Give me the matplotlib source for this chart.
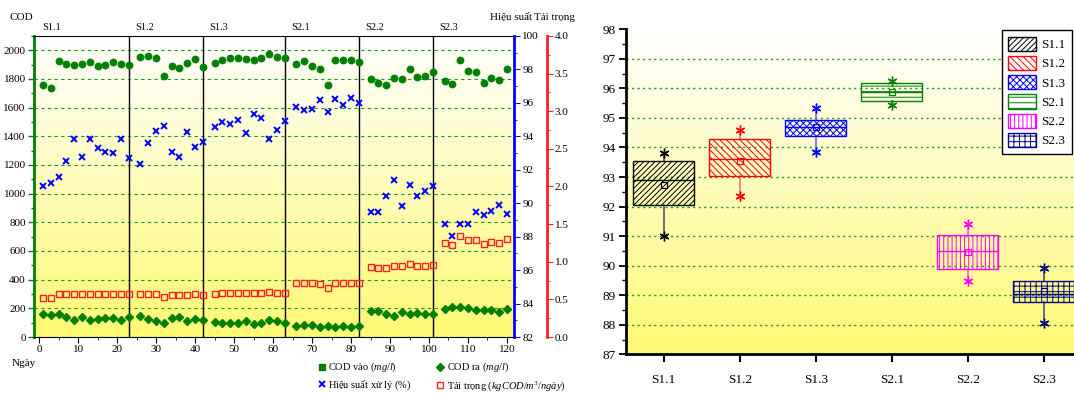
import numpy as np
import matplotlib
matplotlib.use("Agg")
import matplotlib.pyplot as plt
from matplotlib.ticker import MultipleLocator, FormatStrFormatter
from matplotlib.colors import LinearSegmentedColormap
from matplotlib.lines import Line2D
from matplotlib.patches import Patch

plt.rcParams['font.family'] = ['Liberation Serif', 'DejaVu Serif']
plt.rcParams['mathtext.fontset'] = 'custom'
plt.rcParams['mathtext.rm'] = 'Liberation Serif'
plt.rcParams['mathtext.it'] = 'Liberation Serif:italic'
plt.rcParams['hatch.linewidth'] = 0.7

# ---- left panel: daily measurements ----
ngay = [1, 3, 5, 7, 9, 11, 13, 15, 17, 19, 21, 23,
        26, 28, 30, 32, 34, 36, 38, 40, 42,
        45, 47, 49, 51, 53, 55, 57, 59, 61, 63,
        66, 68, 70, 72, 74, 76, 78, 80, 82,
        85, 87, 89, 91, 93, 95, 97, 99, 101,
        104, 106, 108, 110, 112, 114, 116, 118, 120]

cod_vao = [1758, 1735, 1923, 1907, 1900, 1902, 1916, 1893, 1895, 1919, 1907, 1900,
           1951, 1960, 1944, 1821, 1893, 1877, 1912, 1940, 1881,
           1912, 1933, 1944, 1944, 1942, 1933, 1944, 1972, 1951, 1944,
           1902, 1923, 1893, 1872, 1760, 1933, 1933, 1933, 1921,
           1800, 1770, 1755, 1806, 1802, 1870, 1812, 1819, 1847,
           1787, 1765, 1930, 1856, 1852, 1773, 1809, 1790, 1872]

cod_ra = [160, 153, 160, 142, 116, 140, 116, 128, 133, 135, 119, 142,
          149, 128, 112, 95, 133, 137, 109, 128, 119,
          102, 98, 100, 98, 114, 88, 95, 121, 109, 100,
          79, 83, 82, 68, 77, 71, 79, 70, 75,
          184, 183, 163, 150, 177, 160, 167, 163, 160,
          197, 207, 212, 205, 190, 185, 186, 177, 195]

hieu_suat = [91.03, 91.19, 91.59, 92.54, 93.82, 92.78, 93.82, 93.28, 93.06, 93.00, 93.82, 92.68,
             92.36, 93.62, 94.30, 94.60, 93.06, 92.78, 94.28, 93.38, 93.64,
             94.58, 94.88, 94.74, 94.96, 94.22, 95.33, 95.12, 93.84, 94.40, 94.92,
             95.77, 95.57, 95.61, 96.19, 95.45, 96.21, 95.89, 96.27, 95.99,
             89.46, 89.46, 90.42, 91.36, 89.84, 91.08, 90.44, 90.76, 91.02,
             88.76, 88.06, 88.76, 88.76, 89.50, 89.32, 89.52, 89.90, 89.36]

tai_trong = [0.52, 0.52, 0.57, 0.57, 0.57, 0.57, 0.575, 0.565, 0.565, 0.575, 0.57, 0.565,
             0.57, 0.575, 0.57, 0.535, 0.555, 0.555, 0.563, 0.567, 0.555,
             0.571, 0.58, 0.585, 0.585, 0.585, 0.58, 0.585, 0.594, 0.585, 0.585,
             0.716, 0.716, 0.711, 0.703, 0.657, 0.72, 0.72, 0.72, 0.716,
             0.933, 0.92, 0.911, 0.937, 0.937, 0.973, 0.943, 0.947, 0.956,
             1.244, 1.223, 1.343, 1.293, 1.289, 1.231, 1.257, 1.244, 1.303]

giai_doan = ["S1.1", "S1.2", "S1.3", "S2.1", "S2.2", "S2.3"]
bat_dau = [-1, 23, 42, 63, 82, 101]      # day each stage starts
ngay_chuyen = [23, 42, 63, 82, 101]      # stage boundaries

# ---- right panel: box statistics of treatment efficiency (%) ----
hs_min = [91.00, 92.36, 93.84, 95.43, 89.47, 88.07]
hs_q1 = [92.05, 93.04, 94.40, 95.58, 89.88, 88.77]
hs_med = [92.89, 93.60, 94.70, 95.89, 90.49, 89.03]
hs_mean = [92.72, 93.55, 94.68, 95.87, 90.45, 89.14]
hs_q3 = [93.55, 94.28, 94.93, 96.18, 91.04, 89.49]
hs_max = [93.83, 94.60, 95.32, 96.26, 91.40, 89.91]

xanh = '#008000'
grad_cmap = LinearSegmentedColormap.from_list('bg', ['#FFFFFF', '#FFF974'])
grad = np.linspace(0, 1, 256).reshape(-1, 1)

fig = plt.figure(figsize=(10.74, 3.94), dpi=100)

# ================= left chart =================
ax = fig.add_axes([0.03166, 0.14467, 0.44693, 0.76396])
ax.imshow(grad, cmap=grad_cmap, extent=(0, 1, 0, 1), transform=ax.transAxes,
          aspect='auto', zorder=0)
ax.plot(ngay, cod_vao, 'o', color=xanh, ms=4.6, zorder=4)
ax.plot(ngay, cod_ra, 'D', color=xanh, ms=4.0, zorder=4)
for d in ngay_chuyen:
    ax.axvline(d, color='black', lw=1, zorder=2)
ax.set_xlim(-1.3, 121.8)
ax.set_ylim(0, 2100)
ax.set_yticks(range(0, 2001, 200))
ax.yaxis.set_minor_locator(MultipleLocator(100))
ax.set_xticks(range(0, 121, 10))
ax.xaxis.set_minor_locator(MultipleLocator(5))
ax.grid(axis='y', color='#1a9a1a', ls=(0, (3, 3)), lw=0.8)
ax.tick_params(axis='y', which='both', direction='out', color=xanh, labelsize=8, pad=2)
ax.tick_params(axis='y', which='major', length=4, width=1)
ax.tick_params(axis='y', which='minor', length=2, width=1)
ax.tick_params(axis='x', which='both', direction='out', labelsize=8, pad=2)
ax.tick_params(axis='x', which='major', length=4)
ax.tick_params(axis='x', which='minor', length=2)
ax.spines['left'].set_color(xanh)
ax.spines['left'].set_linewidth(2)
ax.spines['right'].set_visible(False)
ax.spines['top'].set_linewidth(0.8)
ax.spines['bottom'].set_linewidth(0.8)

for s, name in zip(bat_dau, giai_doan):
    ax.text(s + 1.7, 1.027, name, transform=ax.get_xaxis_transform(),
            ha='left', va='center', fontsize=7.5)

ax2 = ax.twinx()
ax2.plot(ngay, hieu_suat, 'x', color='blue', ms=5, mew=1.4, zorder=4)
ax2.set_ylim(82, 100)
ax2.yaxis.set_major_locator(MultipleLocator(2))
ax2.yaxis.set_minor_locator(MultipleLocator(1))
ax2.spines[['left', 'top', 'bottom']].set_visible(False)
ax2.spines['right'].set_color('blue')
ax2.spines['right'].set_linewidth(2)
ax2.tick_params(axis='y', which='both', direction='out', color='blue', labelsize=8, pad=2)
ax2.tick_params(axis='y', which='major', length=4)
ax2.tick_params(axis='y', which='minor', length=2)

ax3 = ax.twinx()
ax3.spines['right'].set_position(('outward', 23.5))
ax3.plot(ngay, tai_trong, 's', mfc='none', mec='#FF2020', ms=4.5, mew=1, zorder=4)
ax3.set_ylim(0, 4)
ax3.yaxis.set_major_locator(MultipleLocator(0.5))
ax3.yaxis.set_minor_locator(MultipleLocator(0.25))
ax3.yaxis.set_major_formatter(FormatStrFormatter('%.1f'))
ax3.spines[['left', 'top', 'bottom']].set_visible(False)
ax3.spines['right'].set_color('#FF2020')
ax3.spines['right'].set_linewidth(2)
ax3.tick_params(axis='y', which='both', direction='out', color='#FF2020', labelsize=8, pad=2)
ax3.tick_params(axis='y', which='major', length=4)
ax3.tick_params(axis='y', which='minor', length=2)

fig.text(10 / 1074, 1 - 17 / 394, 'COD', va='center', fontsize=8)
fig.text(490 / 1074, 1 - 17 / 394, 'Hiệu suất', va='center', fontsize=8)
fig.text(534 / 1074, 1 - 17 / 394, 'Tải trọng', va='center', fontsize=8)
fig.text(12 / 1074, 1 - 363 / 394, 'Ngày', va='center', fontsize=8)

leg_handles = [
    Line2D([], [], ls='none', marker='s', color=xanh, ms=4),
    Line2D([], [], ls='none', marker='x', color='blue', ms=4.5, mew=1.4),
    Line2D([], [], ls='none', marker='D', color=xanh, ms=4),
    Line2D([], [], ls='none', marker='s', mfc='none', mec='#FF2020', ms=4.5, mew=1),
]
leg_labels = [
    r'COD vào $\mathit{(mg/l)}$',
    r'Hiệu suất xử lý $\mathit{(\%)}$',
    r'COD ra $\mathit{(mg/l)}$',
    r'Tải trọng $\mathit{(kgCOD/m^3/ngày)}$',
]
fig.legend(leg_handles, leg_labels, ncol=2, loc='upper left',
           bbox_to_anchor=(318 / 1074, 1 - 361 / 394), frameon=False,
           fontsize=7.5, handlelength=0.7, handletextpad=0.3,
           columnspacing=2.4, labelspacing=0.4, borderpad=0, borderaxespad=0)

# ================= right chart =================
bx = fig.add_axes([0.58259, 0.10076, 0.42458, 0.82487])
bx.imshow(grad, cmap=grad_cmap, extent=(0, 1, 0, 1), transform=bx.transAxes,
          aspect='auto', zorder=0)

mau = ['black', 'red', 'blue', xanh, '#FF00FF', '#000080']
mau_rau = ['#555555', '#FF7070', '#6A6AFF', '#40A040', '#FF50FF', '#505080']
hatch = ['//////', '\\\\\\\\\\', 'xxxxx', '---', '||||', '+++']

stats = []
for i, name in enumerate(giai_doan):
    stats.append(dict(med=hs_med[i], q1=hs_q1[i], q3=hs_q3[i],
                      whislo=hs_min[i], whishi=hs_max[i], mean=hs_mean[i],
                      fliers=[hs_min[i], hs_max[i]], label=name))

res = bx.bxp(stats, positions=range(1, 7), widths=0.8, patch_artist=True,
             showmeans=True, showcaps=False, showfliers=True, manage_ticks=True)
for i in range(6):
    res['boxes'][i].set(facecolor='none', edgecolor=mau[i], hatch=hatch[i], lw=1, zorder=3)
    res['medians'][i].set(color=mau[i], lw=1, zorder=4)
    for w in res['whiskers'][2 * i:2 * i + 2]:
        w.set(color=mau_rau[i], lw=1.2, zorder=2)
    res['fliers'][i].set(marker=(6, 2, 0), markeredgecolor=mau[i], ms=7, mew=1, zorder=5)
    res['means'][i].set(marker='s', markerfacecolor='none', markeredgecolor=mau[i],
                        ms=4, mew=0.9, zorder=5)

bx.set_xlim(0.5, 6.5)
bx.set_ylim(87, 98)
bx.set_yticks(range(87, 99))
bx.yaxis.set_minor_locator(MultipleLocator(0.5))
bx.grid(axis='y', color='#1a9a1a', ls=(0, (1.5, 2.5)), lw=1)
bx.get_ygridlines()[-1].set_visible(False)
bx.spines[['top', 'right']].set_visible(False)
bx.spines['left'].set_linewidth(2)
bx.spines['bottom'].set_linewidth(2)
bx.tick_params(axis='y', which='major', direction='out', length=5, width=1.3, labelsize=9.5, pad=2)
bx.tick_params(axis='y', which='minor', direction='out', length=3, width=1)
bx.tick_params(axis='x', direction='out', length=6, width=1.5, labelsize=9.5, pad=8)

bx.legend(handles=[Patch(facecolor='none', edgecolor=mau[i], hatch=hatch[i], label=giai_doan[i])
                   for i in range(6)],
          loc='upper right', bbox_to_anchor=(1072 / 1074, 1 - 30 / 394),
          bbox_transform=fig.transFigure, fontsize=9.5, frameon=True, fancybox=False,
          edgecolor='black', framealpha=1, handlelength=2.1, handleheight=1.3,
          labelspacing=0.35, borderpad=0.5, handletextpad=0.4, borderaxespad=0)

fig.savefig('out.png', dpi=100)
